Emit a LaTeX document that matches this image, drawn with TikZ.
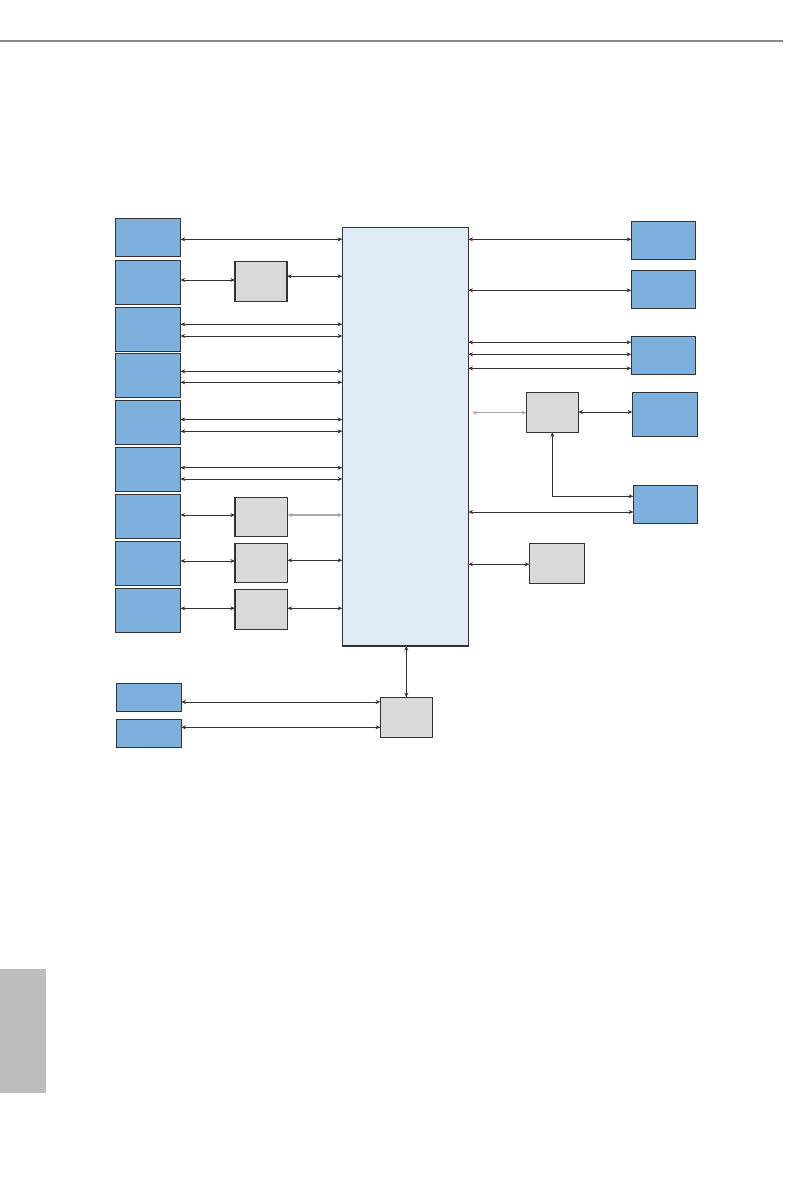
\documentclass[tikz,border=0pt]{standalone}
\usetikzlibrary{arrows.meta}
\definecolor{boxblue}{HTML}{7EB0DD}
\definecolor{boxgray}{HTML}{D9D9D9}
\definecolor{chipblue}{HTML}{DEEAF6}
\definecolor{edge}{HTML}{333333}
\definecolor{rule}{HTML}{8A8A8A}
\definecolor{tab}{HTML}{BDBDBD}
\definecolor{lightline}{HTML}{AAAAAA}
\tikzset{
  base/.style={draw=edge, line width=0.9pt, anchor=north west, inner sep=0pt, outer sep=0pt},
  bluebox/.style={base, fill=boxblue},
  graybox/.style={base, fill=boxgray},
  chip/.style={base, fill=chipblue, line width=0.8pt},
  arr/.style={draw=edge, line width=0.7pt, {Stealth[length=3.5pt,width=3pt]}-{Stealth[length=3.5pt,width=3pt]}},
  larr/.style={arr, draw=lightline, line width=1pt},
}
\newcommand{\bx}[6]{\node[#1, minimum width=#4*0.75pt, minimum height=#5*0.75pt] (#2) at (#3) {};}
\begin{document}
\begin{tikzpicture}[x=0.75pt,y=-0.75pt]
\useasboundingbox (0,0) rectangle (794,1191);
% header rule and side tab
\draw[rule, line width=1.5pt] (0,41.5) -- (783,41.5);
\fill[tab] (0,969) rectangle (46,1093);
% central chip
\bx{chip}{M}{342.3,227.7}{126}{418.3}{}
% left blue boxes
\bx{bluebox}{L1}{115.5,218.3}{65}{38}{}
\bx{bluebox}{L2}{115.5,260.3}{65}{44}{}
\bx{bluebox}{L3}{115.5,307.3}{65}{44}{}
\bx{bluebox}{L4}{115.5,353.3}{65}{44}{}
\bx{bluebox}{L5}{115.5,400.3}{65}{44}{}
\bx{bluebox}{L6}{115.5,447.3}{65}{44}{}
\bx{bluebox}{L7}{115.5,494.3}{65}{44}{}
\bx{bluebox}{L8}{115.5,541.3}{65}{44}{}
\bx{bluebox}{L9}{115.5,588.3}{65}{44}{}
% left gray boxes
\bx{graybox}{A}{235,261.3}{52}{40}{}
\bx{graybox}{B}{235,497.3}{52.5}{39.5}{}
\bx{graybox}{C}{235,543.3}{52.5}{39.5}{}
\bx{graybox}{D}{235,589.3}{52.5}{40}{}
% right blue boxes
\bx{bluebox}{R1}{631.3,221.3}{64}{38}{}
\bx{bluebox}{R2}{631.3,270.3}{64}{38}{}
\bx{bluebox}{R3}{631.3,336.3}{64}{38}{}
\bx{bluebox}{R4}{632.3,392.3}{65}{44}{}
\bx{bluebox}{R5}{633.3,485.3}{64}{38}{}
% right gray boxes
\bx{graybox}{E}{526.3,392.3}{52}{40}{}
\bx{graybox}{F}{529.3,543.3}{55.4}{40}{}
% bottom
\bx{bluebox}{B1}{116.3,683.3}{65}{28}{}
\bx{bluebox}{B2}{116.3,719.3}{65}{28}{}
\bx{graybox}{G}{380.3,697.3}{52}{40}{}
% left connectors
\draw[arr] (L1.east |- 0,239.3) -- (M.west |- 0,239.3);
\draw[arr] (L2.east |- 0,280) -- (A.west |- 0,280);
\draw[arr] (A.east |- 0,276.3) -- (M.west |- 0,276.3);
\draw[arr] (L3.east |- 0,324.3) -- (M.west |- 0,324.3);
\draw[arr] (L3.east |- 0,336) -- (M.west |- 0,336);
\draw[arr] (L4.east |- 0,371.3) -- (M.west |- 0,371.3);
\draw[arr] (L4.east |- 0,382.3) -- (M.west |- 0,382.3);
\draw[arr] (L5.east |- 0,419.5) -- (M.west |- 0,419.5);
\draw[arr] (L5.east |- 0,431.3) -- (M.west |- 0,431.3);
\draw[arr] (L6.east |- 0,467.7) -- (M.west |- 0,467.7);
\draw[arr] (L6.east |- 0,479) -- (M.west |- 0,479);
\draw[arr] (L7.east |- 0,515) -- (B.west |- 0,515);
\draw[larr] (B.east |- 0,515) -- (M.west |- 0,515);
\draw[arr] (L8.east |- 0,561) -- (C.west |- 0,561);
\draw[arr] (C.east |- 0,560.3) -- (M.west |- 0,560.3);
\draw[arr] (L9.east |- 0,608.3) -- (D.west |- 0,608.3);
\draw[arr] (D.east |- 0,608.3) -- (M.west |- 0,608.3);
% right connectors
\draw[arr] (M.east |- 0,239.3) -- (R1.west |- 0,239.3);
\draw[arr] (M.east |- 0,290.3) -- (R2.west |- 0,290.3);
\draw[arr] (M.east |- 0,342.3) -- (R3.west |- 0,342.3);
\draw[arr] (M.east |- 0,354.3) -- (R3.west |- 0,354.3);
\draw[arr] (M.east |- 0,368.3) -- (R3.west |- 0,368.3);
\coordinate (es) at (472.3,412.7);
\draw[larr] (es) -- (E.west |- es);
\draw[arr] (E.east |- 0,412) -- (R4.west |- 0,412);
\draw[arr] (E.south) |- (R5.west |- 0,496.3);
\draw[arr] (M.east |- 0,512) -- (R5.west |- 0,512);
\draw[arr] (M.east |- 0,564.3) -- (F.west |- 0,564.3);
% bottom connectors
\draw[arr] (M.south -| G.north) -- (G.north);
\draw[arr] (B1.east |- 0,702) -- (G.west |- 0,702);
\draw[arr] (B2.east |- 0,727.3) -- (G.west |- 0,727.3);
\end{tikzpicture}
\end{document}
